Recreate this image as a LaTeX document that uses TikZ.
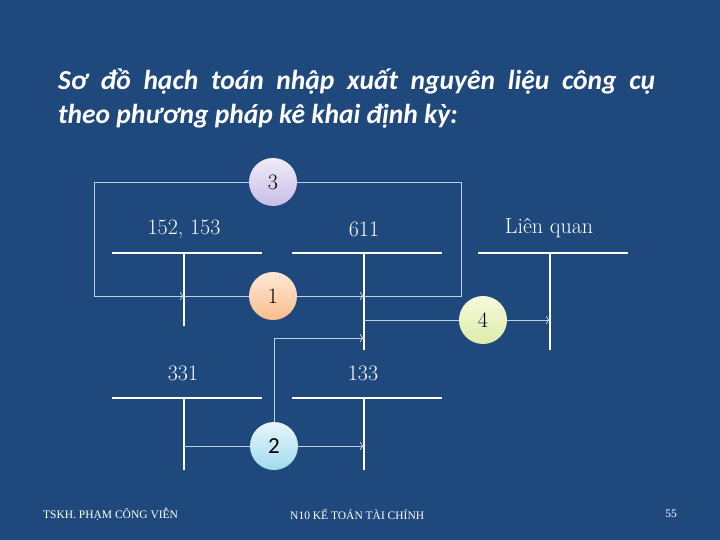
\documentclass[tikz,border=0pt]{standalone}
\usepackage{fontspec}
\usepackage{tikz}
\usetikzlibrary{positioning,arrows.meta}
\newfontfamily\titlefont{Carlito}
\newfontfamily\footfont{Liberation Serif}
\definecolor{slideblue}{RGB}{31,73,125}
\definecolor{linkblue}{RGB}{190,208,230}
\definecolor{lavtop}{RGB}{240,236,248}
\definecolor{lavbot}{RGB}{200,188,230}
\definecolor{peachtop}{RGB}{254,232,214}
\definecolor{peachbot}{RGB}{250,190,140}
\definecolor{limetop}{RGB}{246,250,220}
\definecolor{limebot}{RGB}{222,236,168}
\definecolor{skytop}{RGB}{232,246,251}
\definecolor{skybot}{RGB}{160,218,238}

\begin{document}
\begin{tikzpicture}[x=1pt, y=-1pt,
    acct/.style={draw=white, line width=2.6pt},
    acctlabel/.style={text=white, font=\fontsize{22}{22}\selectfont, inner sep=0pt},
    link/.style={draw=linkblue, line width=0.8pt},
    arrow/.style={link, -{To[length=4pt, width=8pt]}},
    entry/.style={circle, minimum size=48pt, inner sep=0pt, text=black,
                  font=\fontsize{22}{22}\selectfont},
    footer/.style={text=white, font=\footfont\fontsize{11.5}{11.5}\selectfont, inner sep=0pt}
]
% background
\fill[slideblue] (0,0) rectangle (720,540);
\useasboundingbox (0,0) rectangle (720,540);

% title
\node[text=white, anchor=north west, inner sep=0pt, text width=597pt, align=justify,
      font=\titlefont\bfseries\itshape\fontsize{27.5}{34}\selectfont] (title) at (58,69)
  {Sơ đồ hạch toán nhập xuất nguyên liệu công cụ\linebreak theo phương pháp kê khai định kỳ:};

% T accounts
\draw[acct] (112,253) -- (262,253) (184,253) -- (184,326);
\draw[acct] (292,253) -- (442,253) (364,253) -- (364,350);
\draw[acct] (478,253) -- (628,253) (550,253) -- (550,350);
\draw[acct] (112,398) -- (262,398) (184,398) -- (184,470);
\draw[acct] (292,398) -- (442,398) (364,398) -- (364,470);

\node[acctlabel] (lbl152) at (184,229) {152, 153};
\node[acctlabel] (lbl611) at (364,229) {611};
\node[acctlabel] (lblLQ) at (549,228) {Liên quan};
\node[acctlabel] (lbl331) at (183,373) {331};
\node[acctlabel] (lbl133) at (363,373) {133};

% entries
\node[entry, top color=lavtop, bottom color=lavbot] (e3) at (273,182) {3};
\node[entry, top color=peachtop, bottom color=peachbot] (e1) at (273,296) {1};
\node[entry, top color=limetop, bottom color=limebot] (e4) at (483,320) {4};
\node[entry, top color=skytop, bottom color=skybot, font=\titlefont\fontsize{23}{23}\selectfont] (e2) at (274,446) {2};

% connector ends
\coordinate (c152) at (184,296);
\coordinate (c611a) at (364,296);
\coordinate (c611b) at (364,320);
\coordinate (c611c) at (364,338);
\coordinate (cLQ) at (550,320);
\coordinate (c331) at (184,446);
\coordinate (c133) at (364,446);
\coordinate (loopL) at (94,296);
\coordinate (loopR) at (461,182);

% connectors
\draw[link] (c611a) -| (loopR) -- (e3.east);
\draw[arrow] (e3.west) -| (loopL) -- (c152);
\draw[link] (c152) -- (e1.west);
\draw[arrow] (e1.east) -- (c611a);
\draw[link] (c611b) -- (e4.west);
\draw[arrow] (e4.east) -- (cLQ);
\draw[link] (c331) -- (e2.west);
\draw[arrow] (e2.east) -- (c133);
\draw[arrow] (e2.north) |- (c611c);

% footer
\node[footer, anchor=west] (author) at (43,514) {TSKH. PHẠM CÔNG VIỄN};
\node[footer, anchor=west] (course) at (290,514) {N10 KẾ TOÁN TÀI CHÍNH};
\node[footer] (page) at (671,514) {55};
\end{tikzpicture}
\end{document}
